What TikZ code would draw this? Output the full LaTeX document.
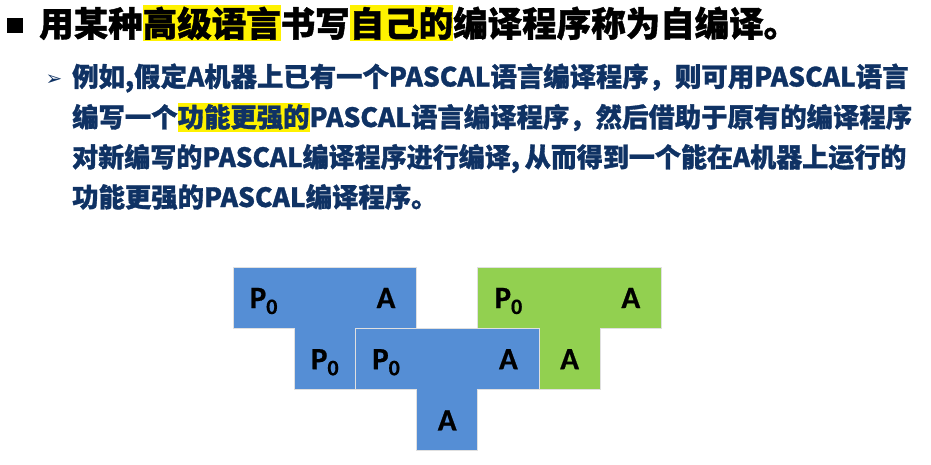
\documentclass[tikz,border=0pt]{standalone}
\usepackage{fontspec}
\usepackage{xcolor}
\newfontfamily\cjk{Noto Sans CJK SC}[BoldFeatures={FakeBold=1.2}]
\newfontfamily\lblfont{Carlito}[BoldFeatures={FakeBold=0.6}]
\newfontfamily\symfont{DejaVu Sans}
\definecolor{navy}{HTML}{0F3264}
\definecolor{tblue}{HTML}{558ED5}
\definecolor{tgreen}{HTML}{92D050}
\newcommand\hlT[1]{{\setlength\fboxsep{0pt}\colorbox{yellow}{\rule[-4.5pt]{0pt}{36pt}#1}}}
\newcommand\hlB[1]{{\setlength\fboxsep{0pt}\colorbox{yellow}{\rule[-4.5pt]{0pt}{29pt}#1}}}
\newcommand\Pz{P{\fontsize{22}{22}\selectfont\raisebox{-6pt}{0}}}
\tikzset{
  titletext/.style={anchor=base west, inner sep=0pt, font=\cjk\bfseries\fontsize{34.5}{40}\selectfont, text=black},
  bodytext/.style={anchor=base west, inner sep=0pt, font=\cjk\bfseries\fontsize{26.5}{30}\selectfont, text=navy},
  tee/.style={draw=white!88!black, line width=1pt},
  lab/.style={anchor=base, inner sep=0pt, font=\lblfont\bfseries\fontsize{31}{31}\selectfont, text=black},
}
\begin{document}
\begin{tikzpicture}[x=1pt,y=-1pt]
\useasboundingbox (0,0) rectangle (931,464);
% title
\node[fill=black, minimum width=16pt, minimum height=15pt, inner sep=0pt] (sq) at (15,25.5) {};
\node[titletext] (title) at (39,36.5) {用某种\hlT{高级语言}书写\hlT{自己的}编译程序称为自编译。};
% bullet
\node[inner sep=0pt, text=navy, font=\symfont\fontsize{20}{20}\selectfont] (arrow) at (54,80) {➢};
\node[bodytext] (l1) at (72,86.5) {\scalebox{0.995}[1]{例如,假定A机器上已有一个PASCAL语言编译程序，则可用PASCAL语言}};
\node[bodytext] (l2) at (72,127) {\scalebox{0.995}[1]{编写一个\hlB{功能更强的}PASCAL语言编译程序，然后借助于原有的编译程序}};
\node[bodytext] (l3) at (72,167) {\scalebox{0.982}[1]{对新编写的PASCAL编译程序进行编译,\hspace{5pt}从而得到一个能在A机器上运行的}};
\node[bodytext] (l4) at (72,207) {\scalebox{0.995}[1]{功能更强的PASCAL编译程序。}};
% T diagrams
\path[tee, fill=tblue] (233,267) -- (416.6,267) -- (416.6,328.2) -- (355.4,328.2) -- (355.4,389.4) -- (294.2,389.4) -- (294.2,328.2) -- (233,328.2) -- cycle;
\path[tee, fill=tgreen] (477.8,267) -- (661.4,267) -- (661.4,328.2) -- (600.2,328.2) -- (600.2,389.4) -- (539,389.4) -- (539,328.2) -- (477.8,328.2) -- cycle;
\path[tee, fill=tblue] (355.4,328.2) -- (539,328.2) -- (539,389.4) -- (477.8,389.4) -- (477.8,450.6) -- (416.6,450.6) -- (416.6,389.4) -- (355.4,389.4) -- cycle;
% labels
\node[lab] (t1src) at (263.6,308) {\Pz};
\node[lab] (t1tgt) at (386,308) {A};
\node[lab] (t1imp) at (324.8,369.2) {\Pz};
\node[lab] (t2src) at (386,369.2) {\Pz};
\node[lab] (t2tgt) at (508.4,369.2) {A};
\node[lab] (t2imp) at (447.2,430.4) {A};
\node[lab] (t3src) at (508.4,308) {\Pz};
\node[lab] (t3tgt) at (630.8,308) {A};
\node[lab] (t3imp) at (569.6,369.2) {A};
\end{tikzpicture}
\end{document}
